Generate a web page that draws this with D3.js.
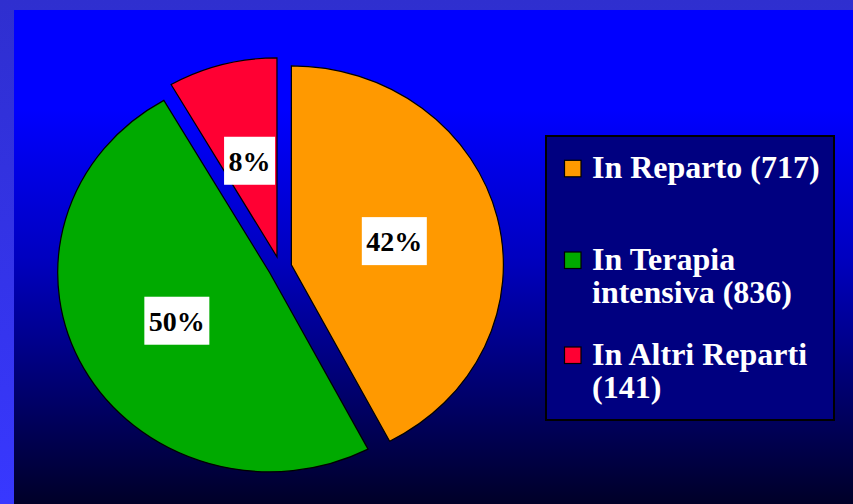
<!DOCTYPE html>
<html><head><meta charset="utf-8">
<script src="https://cdn.jsdelivr.net/npm/d3@7"></script>
<style>html,body{margin:0;padding:0;background:#000;}svg{display:block;}</style>
</head><body>
<svg id="chart" width="853" height="504"></svg>
<script>
const categories = ["In Reparto", "In Terapia intensiva", "In Altri Reparti"];
const values = [717, 836, 141];
const pctLabels = ["42%", "50%", "8%"];
const colors = ["#ff9900", "#00aa00", "#ff0033"];
const legendLines = [["In Reparto (717)"], ["In Terapia", "intensiva (836)"], ["In Altri Reparti", "(141)"]];

const W = 853, H = 504;
const svg = d3.select("#chart");
const defs = svg.append("defs");

const gOuter = defs.append("linearGradient").attr("id","outerG").attr("x1",0).attr("y1",0).attr("x2",0).attr("y2",1);
gOuter.append("stop").attr("offset","0").attr("stop-color","#2f2fcf");
gOuter.append("stop").attr("offset","1").attr("stop-color","#3838ff");

const gInner = defs.append("linearGradient").attr("id","innerG").attr("x1",0).attr("y1",0).attr("x2",0).attr("y2",1);
gInner.append("stop").attr("offset","0").attr("stop-color","#0000ff");
gInner.append("stop").attr("offset","0.2").attr("stop-color","#0000ff");
gInner.append("stop").attr("offset","0.5").attr("stop-color","#0000c0");
gInner.append("stop").attr("offset","1").attr("stop-color","#000028");

svg.append("rect").attr("x",0).attr("y",0).attr("width",W).attr("height",H).attr("fill","url(#outerG)");
svg.append("rect").attr("x",14).attr("y",10).attr("width",W-14).attr("height",H-10).attr("fill","url(#innerG)");

// Pie
const cx = 280, cy = 267.5, ry = 199, rx = 212, explode = 11;
const pie = d3.pie().sort(null).startAngle(0).endAngle(2*Math.PI);
const arcs = pie(values);
const arc = d3.arc().innerRadius(0).outerRadius(ry);

const pieG = svg.append("g").attr("transform", `translate(${cx},${cy}) scale(${rx/ry},1)`);
const slices = pieG.selectAll("g.slice").data(arcs).join("g").attr("class","slice")
  .attr("transform", d => {
    const m = (d.startAngle + d.endAngle)/2;
    return `translate(${explode*Math.sin(m)},${-explode*Math.cos(m)})`;
  });
slices.append("path").attr("d", arc).attr("fill",(d,i)=>colors[i])
  .attr("stroke","#000").attr("stroke-width",1.2).attr("vector-effect","non-scaling-stroke");

// Labels (outside the scaled group to avoid text distortion)
const labelG = svg.append("g");
arcs.forEach((d,i) => {
  const m = (d.startAngle + d.endAngle)/2;
  const ox = cx + (rx/ry)*(explode*Math.sin(m)) + rx*0.5*Math.sin(m);
  const oy = cy - explode*Math.cos(m) - ry*0.5*Math.cos(m);
  const g = labelG.append("g");
  const t = g.append("text").attr("x",ox).attr("y",oy+10)
    .attr("text-anchor","middle")
    .attr("font-family","'Liberation Serif','Times New Roman',serif")
    .attr("font-weight","bold").attr("font-size",28).attr("fill","#000")
    .text(pctLabels[i]);
  const bb = t.node().getBBox();
  g.insert("rect","text").attr("x",bb.x-4.5).attr("y",oy-24).attr("width",bb.width+9).attr("height",48).attr("fill","#fff");
});

// Legend
const lg = svg.append("g");
lg.append("rect").attr("x",546).attr("y",136).attr("width",288).attr("height",284)
  .attr("fill","#000080").attr("stroke","#000").attr("stroke-width",2);
const itemY = [178.3, 270, 365];
legendLines.forEach((lines,i) => {
  lg.append("rect").attr("x",564.5).attr("y",itemY[i]-18).attr("width",16.5).attr("height",16.5)
    .attr("fill",colors[i]).attr("stroke","#000").attr("stroke-width",1.2);
  const t = lg.append("text").attr("x",592).attr("y",itemY[i])
    .attr("font-family","'Liberation Serif','Times New Roman',serif")
    .attr("font-weight","bold").attr("font-size",32).attr("fill","#fff");
  lines.forEach((ln,j) => {
    t.append("tspan").attr("x",592).attr("dy", j===0 ? 0 : 33).text(ln);
  });
});
</script>
</body></html>
